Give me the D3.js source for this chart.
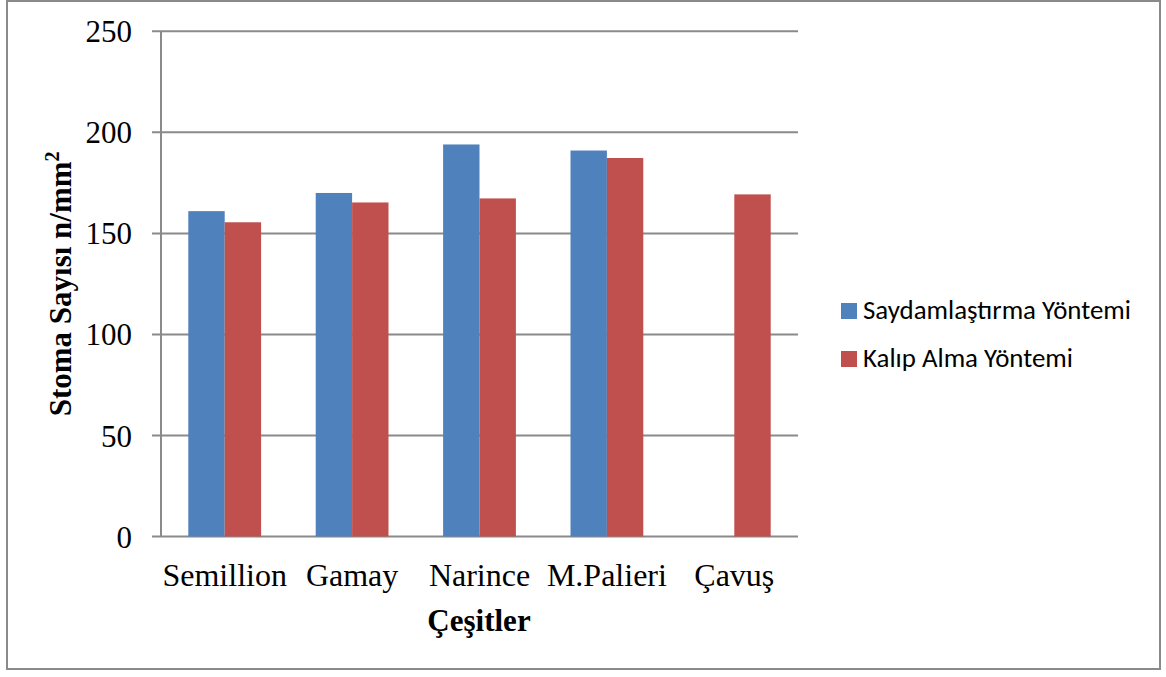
<!DOCTYPE html>
<html>
<head>
<meta charset="utf-8">
<script src="https://cdn.jsdelivr.net/npm/d3@7"></script>
<style>
  html, body { margin: 0; padding: 0; background: #fff; }
  svg { display: block; }
</style>
</head>
<body>
<svg id="chart" width="1166" height="677"></svg>
<script>
const categories = ["Semillion", "Gamay", "Narince", "M.Palieri", "Çavuş"];
const seriesNames = ["Saydamlaştırma Yöntemi", "Kalıp Alma Yöntemi"];
const saydamlastirma = [161, 170, 194, 191, null];
const kalipAlma = [155.5, 165.3, 167.3, 187.3, 169.3];
const yTicks = [0, 50, 100, 150, 200, 250];
const colors = ["#4F81BD", "#C0504D"];
const yTitle = "Stoma Sayısı n/mm";
const xTitle = "Çeşitler";

const svg = d3.select("#chart");
const W = 1166, H = 677;
const plot = { left: 161, right: 798, top: 31.3, bottom: 536.5 };
const grey = "#8a8a8a";

svg.append("rect").attr("width", W).attr("height", H).attr("fill", "#fff");
// outer frame
svg.append("rect")
  .attr("x", 7).attr("y", 1).attr("width", 1153).attr("height", 668)
  .attr("fill", "none").attr("stroke", grey).attr("stroke-width", 2);

const x = d3.scaleBand().domain(categories)
  .range([plot.left, plot.right]).paddingInner(0.4286).paddingOuter(0.2143);
const xs = d3.scaleBand().domain(seriesNames).range([0, x.bandwidth()]);
const y = d3.scaleLinear().domain([0, 250]).range([plot.bottom, plot.top]);

// gridlines
svg.append("g").selectAll("line").data(yTicks).join("line")
  .attr("x1", plot.left - 9).attr("x2", plot.right)
  .attr("y1", d => y(d)).attr("y2", d => y(d))
  .attr("stroke", grey).attr("stroke-width", 2);

// y axis
const yAxis = d3.axisLeft(y).tickValues(yTicks).tickSize(0).tickPadding(29).tickFormat(d3.format("d"));
const ga = svg.append("g").attr("transform", `translate(${plot.left},0)`).call(yAxis);
ga.select(".domain").remove();
ga.selectAll("text")
  .attr("font-family", "'Liberation Serif','Times New Roman',serif")
  .attr("font-size", 31).attr("fill", "#000").attr("dy", "0.34em");
svg.append("line")
  .attr("x1", plot.left).attr("x2", plot.left)
  .attr("y1", plot.top).attr("y2", plot.bottom)
  .attr("stroke", grey).attr("stroke-width", 2);

// bars
const seriesData = [saydamlastirma, kalipAlma];
seriesData.forEach((vals, si) => {
  svg.append("g").selectAll("rect")
    .data(categories.map((c, i) => ({ c, v: vals[i] })).filter(d => d.v != null))
    .join("rect")
    .attr("x", d => x(d.c) + xs(seriesNames[si]))
    .attr("width", xs.bandwidth())
    .attr("y", d => y(d.v))
    .attr("height", d => y(0) - y(d.v))
    .attr("fill", colors[si]);
});

// category labels
const xAxis = d3.axisBottom(x).tickSize(0).tickPadding(0);
const gx = svg.append("g").attr("transform", `translate(0,${plot.bottom})`).call(xAxis);
gx.select(".domain").remove();
gx.selectAll("text")
  .attr("font-family", "'Liberation Serif','Times New Roman',serif")
  .attr("font-size", 32).attr("fill", "#000")
  .attr("dy", null).attr("y", 49.5);

// x title
svg.append("text")
  .attr("x", 479).attr("y", 631)
  .attr("text-anchor", "middle")
  .attr("font-family", "'Liberation Serif','Times New Roman',serif")
  .attr("font-weight", "bold").attr("font-size", 31)
  .text(xTitle);

// y title
const yt = svg.append("text")
  .attr("transform", `translate(71,${(plot.top + plot.bottom) / 2}) rotate(-90)`)
  .attr("text-anchor", "middle")
  .attr("font-family", "'Liberation Serif','Times New Roman',serif")
  .attr("font-weight", "bold").attr("font-size", 31);
yt.append("tspan").text(yTitle);
yt.append("tspan").attr("font-size", 20).attr("dy", -12).text("2");

// legend
const legend = svg.append("g");
seriesNames.forEach((name, i) => {
  const ly = 303 + i * 48;
  legend.append("rect").attr("x", 841).attr("y", ly).attr("width", 16).attr("height", 16).attr("fill", colors[i]);
  legend.append("text").attr("class", "lg")
    .attr("x", 863).attr("y", ly + 16)
    .attr("font-family", "Carlito, Calibri, Lato, sans-serif")
    .attr("font-size", 21).attr("fill", "#000").text(name);
});
// fit legend font to reference width of first entry
const first = legend.select("text.lg").node();
const w0 = first.getComputedTextLength();
if (w0 > 0) {
  const fs = 21 * 268 / w0;
  legend.selectAll("text.lg").attr("font-size", fs);
}
</script>
</body>
</html>
